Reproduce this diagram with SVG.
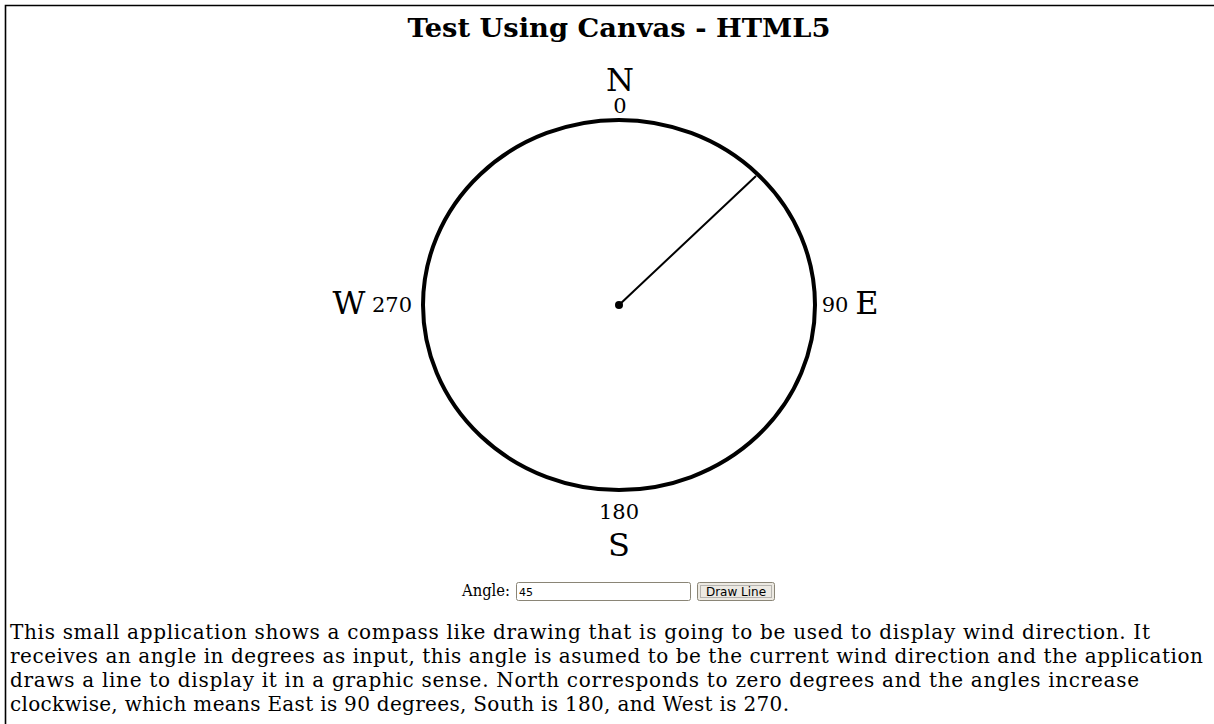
<svg xmlns="http://www.w3.org/2000/svg" width="1214" height="724" viewBox="0 0 1214 724">
<style>
.serif{font-family:"DejaVu Serif","Liberation Serif",serif;fill:#000}
.sans{font-family:"DejaVu Sans","Liberation Sans",sans-serif;fill:#000}
.card{font-size:32px}
.deg{font-size:21px}
.para{font-size:20px}
</style>
<rect width="1214" height="724" fill="#fff"/>
<path d="M5.5 724 V5.5 H1214" fill="none" stroke="#000" stroke-width="1.6"/>
<text class="serif" x="619" y="37" font-size="26" font-weight="bold" text-anchor="middle" textLength="423" lengthAdjust="spacingAndGlyphs">Test Using Canvas - HTML5</text>
<g id="compass">
<ellipse cx="619" cy="305" rx="196" ry="185" fill="none" stroke="#000" stroke-width="4"/>
</g>
<g id="connectors">
<line x1="619" y1="305" x2="756" y2="176" stroke="#000" stroke-width="2"/>
<circle cx="619" cy="305" r="4" fill="#000"/>
</g>
<g id="north"><text class="serif card" x="620" y="91" text-anchor="middle">N</text><text class="serif deg" x="620" y="113" text-anchor="middle">0</text></g>
<g id="west"><text class="serif card" x="349" y="314" text-anchor="middle">W</text><text class="serif deg" x="392" y="312" text-anchor="middle">270</text></g>
<g id="east"><text class="serif deg" x="835" y="312" text-anchor="middle">90</text><text class="serif card" x="867" y="314" text-anchor="middle">E</text></g>
<g id="south"><text class="serif deg" x="619" y="519" text-anchor="middle">180</text><text class="serif card" x="619" y="556" text-anchor="middle">S</text></g>
<g id="form">
<text class="serif" x="462" y="596" font-size="16" textLength="48" lengthAdjust="spacingAndGlyphs">Angle:</text>
<rect x="516.5" y="582.5" width="174" height="18" rx="2" fill="#fff" stroke="#8a8576" stroke-width="1"/>
<text class="sans" x="519" y="596" font-size="11">45</text>
<rect x="697.5" y="582.5" width="77" height="18" rx="2" fill="#ece9e2" stroke="#8a8576" stroke-width="1"/>
<rect x="700.5" y="585.5" width="71" height="12" fill="none" stroke="#555" stroke-width="0.7" stroke-dasharray="1 1"/>
<text class="sans" x="736" y="596" font-size="12" text-anchor="middle">Draw Line</text>
</g>
<g id="description" class="serif para">
<text x="10" y="639" textLength="1140">This small application shows a compass like drawing that is going to be used to display wind direction. It</text>
<text x="10" y="663" textLength="1193">receives an angle in degrees as input, this angle is asumed to be the current wind direction and the application</text>
<text x="10" y="687" textLength="1129">draws a line to display it in a graphic sense. North corresponds to zero degrees and the angles increase</text>
<text x="10" y="711" textLength="779">clockwise, which means East is 90 degrees, South is 180, and West is 270.</text>
</g>
</svg>
